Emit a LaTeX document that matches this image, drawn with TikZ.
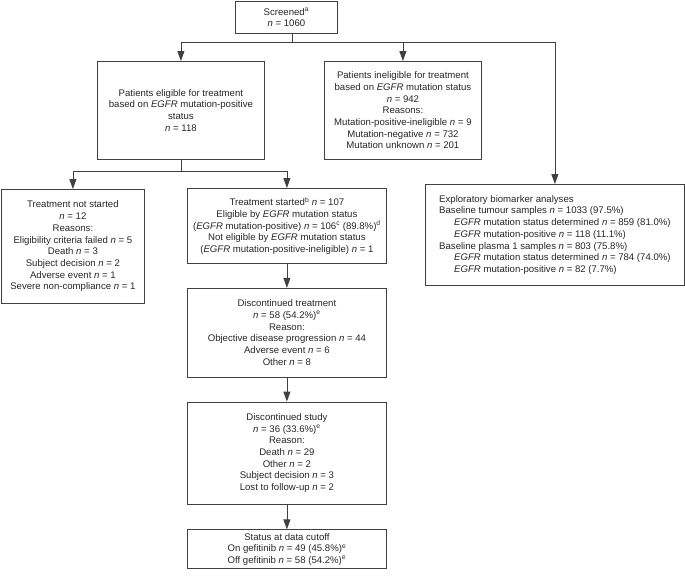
\documentclass[tikz,border=0pt]{standalone}
\usepackage{fontspec}
\setmainfont{Liberation Sans}
\usepackage{tikz}
\usetikzlibrary{arrows.meta,
                calc,
                positioning}
\tikzstyle{box} = [rectangle, draw=black!75, line width=0.8pt, text=black!85, align=center, inner sep=0pt, anchor=north west, font=\fontsize{9.6}{11.7}\selectfont]
\tikzstyle{arrow} = [line width=0.8pt, draw=black!75, -{Triangle[length=10pt,width=7pt]}]
\tikzstyle{line} = [line width=0.8pt, draw=black!75]
\newcommand{\nv}{\textit{n}}
\newcommand{\egfr}{\textit{EGFR}}

\begin{document}
\begin{tikzpicture}[x=1pt, y=-1pt, node distance=24pt]
\useasboundingbox (0,0) rectangle (685,576);
\node (screened) [box, minimum width=102pt, minimum height=32pt] at (235,1) {Screened\textsuperscript{a}\\\nv{} = 1060};
\node (eligible) [box, minimum width=167pt, minimum height=98pt] at (97,61) {Patients eligible for treatment\\based on \egfr{} mutation-positive\\status\\\nv{} = 118};
\node (ineligible) [box, minimum width=157pt, minimum height=98pt] at (324,61) {Patients ineligible for treatment\\based on \egfr{} mutation status\\\nv{} = 942\\Reasons:\\Mutation-positive-ineligible \nv{} = 9\\Mutation-negative \nv{} = 732\\Mutation unknown \nv{} = 201};
\node (notstarted) [box, minimum width=143pt, minimum height=114pt] at (1,189) {Treatment not started\\\nv{} = 12\\Reasons:\\Eligibility criteria failed \nv{} = 5\\Death \nv{} = 3\\Subject decision \nv{} = 2\\Adverse event \nv{} = 1\\Severe non-compliance \nv{} = 1};
\node (started) [box, minimum width=199pt, minimum height=75pt] at (187,188) {Treatment started\textsuperscript{b} \nv{} = 107\\Eligible by \egfr{} mutation status\\(\egfr{} mutation-positive) \nv{} = 106\textsuperscript{c} (89.8\%)\textsuperscript{d}\\Not eligible by \egfr{} mutation status\\(\egfr{} mutation-positive-ineligible) \nv{} = 1};
\node (disctreat) [box, minimum width=199pt, minimum height=89pt, below=of started] {Discontinued treatment\\\nv{} = 58 (54.2\%)\textsuperscript{e}\\Reason:\\Objective disease progression \nv{} = 44\\Adverse event \nv{} = 6\\Other \nv{} = 8};
\node (discstudy) [box, minimum width=199pt, minimum height=102pt, below=of disctreat] {Discontinued study\\\nv{} = 36 (33.6\%)\textsuperscript{e}\\Reason:\\Death \nv{} = 29\\Other \nv{} = 2\\Subject decision \nv{} = 3\\Lost to follow-up \nv{} = 2};
\node (status) [box, minimum width=199pt, minimum height=39pt, below=25pt of discstudy] {Status at data cutoff\\On gefitinib \nv{} = 49 (45.8\%)\textsuperscript{e}\\Off gefitinib \nv{} = 58 (54.2\%)\textsuperscript{e}};
\node (explore) [box, minimum width=259pt, minimum height=101pt, align=left] at (425,184) {Exploratory biomarker analyses\\Baseline tumour samples \nv{} = 1033 (97.5\%)\\\hspace*{15pt}\egfr{} mutation status determined \nv{} = 859 (81.0\%)\\\hspace*{15pt}\egfr{} mutation-positive \nv{} = 118 (11.1\%)\\Baseline plasma 1 samples \nv{} = 803 (75.8\%)\\\hspace*{15pt}\egfr{} mutation status determined \nv{} = 784 (74.0\%)\\\hspace*{15pt}\egfr{} mutation-positive \nv{} = 82 (7.7\%)};
% first split
\coordinate (split1) at (292,42);
\draw [line] (screened.south -| split1) -- (split1);
\draw [arrow] (split1) -| (eligible.north);
\draw [arrow] (split1) -| (explore.north);
\draw [arrow] (ineligible.north |- split1) -- (ineligible.north);
% second split
\draw [line] (eligible.south) -- ++(0,12) coordinate (split2);
\draw [arrow] (split2) -| (notstarted.north);
\draw [arrow] (split2) -| (started.north);
\draw [arrow] (started) -- (disctreat);
\draw [arrow] (disctreat) -- (discstudy);
\draw [arrow] (discstudy) -- (status);
\end{tikzpicture}
\end{document}
